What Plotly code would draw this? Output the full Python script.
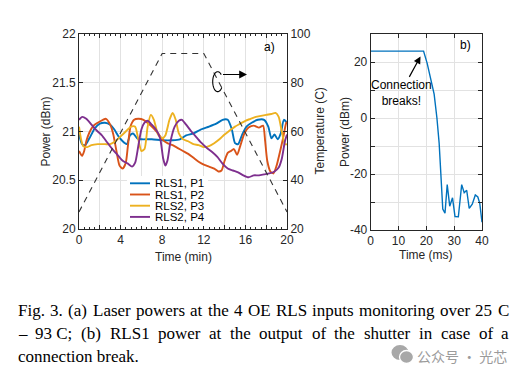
import math
import plotly.graph_objects as go

W, H = 532, 377
OFF = 8  # the page body margin shifts the figure by this many pixels

# ---------------- data: panel (a) ----------------
t_p1 = [0, 0.3, 0.6, 1.0, 1.5, 2.0, 2.5, 3.0, 3.4, 3.8, 4.2, 4.6, 4.9, 5.2, 5.6, 6.0, 7.0, 8.0, 9.0, 9.7,
        10.3, 11.0, 11.7, 12.5, 13.2, 13.8, 14.3, 14.7, 15.0, 15.3, 15.7, 16.1, 16.6, 17.2, 17.8, 18.2, 18.5,
        18.8, 19.1, 19.4, 19.7, 20.0]
p1 = [20.97, 20.87, 20.86, 20.93, 21.03, 21.08, 21.09, 21.07, 21.02, 20.95, 20.90, 20.87, 20.96, 20.98, 20.93,
      20.92, 20.92, 20.91, 20.91, 20.92, 20.96, 20.98, 21.02, 21.05, 21.08, 21.12, 21.12, 21.02, 20.88, 20.87,
      20.97, 21.05, 21.09, 21.12, 21.12, 21.05, 20.93, 20.97, 20.92, 20.98, 21.12, 21.09]

t_p2 = [0, 0.3, 0.5, 0.7, 1.0, 1.4, 1.8, 2.3, 2.6, 3.0, 3.3, 3.6, 3.9, 4.2, 4.5, 4.7, 4.95, 5.3, 5.7, 6.2, 6.7,
        7.2, 7.6, 8.0, 8.5, 9.0, 9.5, 10.0, 10.5, 11.0, 11.5, 12.0, 12.5, 13.0, 13.4, 13.7, 14.0, 14.3, 14.6,
        14.9, 15.2, 15.5, 15.9, 16.3, 16.8, 17.3, 17.7, 17.9, 18.1, 18.4, 18.7, 19.0, 19.3, 19.6, 19.9, 20.0]
p2 = [20.80, 20.75, 20.80, 20.90, 20.99, 21.06, 21.09, 21.12, 21.13, 21.07, 20.97, 20.80, 20.65, 20.62, 20.68,
      20.85, 21.05, 21.12, 21.13, 21.12, 21.08, 21.03, 20.98, 20.92, 20.88, 20.86, 20.83, 20.80, 20.77, 20.73,
      20.69, 20.66, 20.64, 20.62, 20.59, 20.60, 20.70, 20.78, 20.80, 20.82, 20.76, 20.85, 20.98, 21.04, 21.06,
      21.04, 21.06, 20.90, 20.70, 20.59, 20.57, 20.65, 20.78, 20.92, 21.08, 21.10]

t_p3 = [0, 0.2, 0.4, 0.8, 1.2, 1.8, 2.5, 3.0, 3.5, 4.0, 4.5, 5.0, 5.4, 5.7, 6.0, 6.3, 6.6, 6.9, 7.2, 7.6, 8.0,
        8.3, 8.7, 9.0, 9.3, 9.6, 10.0, 10.5, 11.0, 11.5, 12.0, 12.5, 13.0, 13.5, 14.0, 14.5, 15.0, 15.5, 16.0,
        16.5, 17.0, 17.5, 18.0, 18.5, 18.9, 19.2, 19.5, 19.8, 20.0]
p3 = [21.05, 20.92, 20.85, 20.84, 20.86, 20.87, 20.87, 20.87, 20.90, 20.95, 21.00, 21.05, 21.05, 20.92, 20.80,
      20.82, 21.05, 21.17, 21.12, 20.97, 20.93, 20.96, 21.12, 21.19, 21.12, 20.98, 20.92, 20.90, 20.87, 20.86,
      20.84, 20.85, 20.88, 20.92, 20.97, 21.01, 21.05, 21.08, 21.11, 21.13, 21.15, 21.16, 21.17, 21.18, 21.19,
      21.15, 21.00, 20.87, 20.87]

t_p4 = [0, 0.3, 0.7, 1.2, 1.7, 2.2, 2.7, 3.2, 3.7, 4.2, 4.7, 5.1, 5.4, 5.7, 6.0, 6.3, 6.6, 7.0, 7.4, 7.8, 8.1,
        8.3, 8.5, 8.8, 9.2, 9.6, 9.9, 10.3, 10.8, 11.3, 11.8, 12.3, 12.8, 13.3, 13.8, 14.3, 14.8, 15.3, 15.8,
        16.3, 16.8, 17.3, 17.8, 18.3, 18.8, 19.2, 19.5, 19.8, 20.0]
p4 = [21.12, 21.15, 21.13, 21.07, 21.01, 20.96, 20.89, 20.82, 20.76, 20.70, 20.67, 20.64, 20.68, 20.85, 21.02,
      21.09, 21.11, 21.07, 21.02, 20.93, 20.72, 20.65, 20.70, 20.90, 21.05, 21.11, 21.12, 21.07, 21.00, 20.94,
      20.88, 20.83, 20.79, 20.74, 20.67, 20.62, 20.60, 20.58, 20.55, 20.53, 20.55, 20.55, 20.56, 20.57, 20.59,
      20.63, 20.72, 20.90, 20.97]

t_temp = [0, 8, 12, 20]
temp = [27, 92, 92, 27]

series_names = ["RLS1, P1", "RLS1, P2", "RLS2, P3", "RLS2, P4"]
series_colors = ["#0072BD", "#D95319", "#EDB120", "#7E2F8E"]

# ---------------- data: panel (b) ----------------
t_ms = [0, 19, 20.3, 21.6, 22.8, 23.8, 24.6, 25.1, 25.5, 25.9, 26.7, 27.5, 28.4, 29.4, 30.3, 31.5, 32.7,
        33.6, 34.5, 35.4, 36.5, 37.6, 38.5, 39.2, 40]
p_b = [23.9, 23.9, 19.5, 14, 8.5, 0, -9, -18, -27, -32.5, -34, -23.8, -31.5, -28.5, -35.2, -35.3, -23.8,
       -26.7, -25.8, -32.3, -30.8, -27.5, -28.2, -30.5, -37.2]

a_x_ticks = [0, 2, 4, 6, 8, 10, 12, 14, 16, 18, 20]
a_x_labels = ["0", "", "4", "", "8", "", "12", "", "16", "", "20"]
a_y_ticks = [20, 20.5, 21, 21.5, 22]
a_y_labels = ["20", "20.5", "21", "21.5", "22"]
temp_ticks = [20, 40, 60, 80, 100]
b_x_ticks = [0, 10, 20, 30, 40]
b_y_ticks = [-40, -30, -20, -10, 0, 10, 20, 30]
b_y_labels = ["-40", "", "-20", "", "0", "", "20", ""]

caption_1 = ["Fig.", "3.", "(a)", "Laser", "powers", "at", "the", "4", "OE", "RLS", "inputs", "monitoring",
             "over", "25", "C"]
caption_2 = ["–", "93\u00a0C;", "(b)", "RLS1", "power", "at", "the", "output", "of", "the", "shutter", "in",
             "case", "of", "a"]
caption_3 = "connection break."

# ---------------- helpers ----------------
def PX(x):
    return (x - OFF) / W


def PY(y):
    return 1 - (y - OFF) / H


AX_COL = "#262626"
GRID = "#e2e2e2"
SANS = "Liberation Sans, Arial, sans-serif"
SERIF = "Liberation Serif, Times New Roman, serif"

fig = go.Figure()

for tt, pp, nm, col in zip([t_p1, t_p2, t_p3, t_p4], [p1, p2, p3, p4], series_names, series_colors):
    fig.add_trace(go.Scatter(x=tt, y=pp, mode="lines", name=nm, showlegend=False,
                             line=dict(color=col, width=1.9, shape="spline", smoothing=0.6),
                             xaxis="x", yaxis="y"))

fig.add_trace(go.Scatter(x=t_temp, y=temp, mode="lines", showlegend=False,
                         line=dict(color="#333333", width=1.1, dash="6px,5px"),
                         xaxis="x", yaxis="y3"))

fig.add_trace(go.Scatter(x=t_ms, y=p_b, mode="lines", showlegend=False,
                         line=dict(color="#0072BD", width=1.4),
                         xaxis="x2", yaxis="y2"))

tickfont = dict(family=SANS, size=12, color=AX_COL)
common = dict(showline=True, linecolor=AX_COL, linewidth=1, ticks="inside", tickcolor=AX_COL,
              ticklen=4, tickwidth=1, zeroline=False, tickfont=tickfont, gridcolor=GRID, gridwidth=1,
              automargin=False)

fig.update_layout(
    template="none",
    width=W, height=H, autosize=False,
    margin=dict(l=0, r=0, t=0, b=0, pad=0),
    paper_bgcolor="white", plot_bgcolor="white",
    showlegend=False,
    xaxis=dict(domain=[PX(79), PX(287)], range=[0, 20], tickmode="array", tickvals=a_x_ticks,
               ticktext=a_x_labels, mirror="ticks", showgrid=True, anchor="y",
               minor=dict(dtick=0.5, ticklen=2, ticks="inside", tickcolor=AX_COL, showgrid=False),
               **common),
    yaxis=dict(domain=[PY(229), PY(34)], range=[20, 22], tickmode="array", tickvals=a_y_ticks,
               ticktext=a_y_labels, mirror=True, showgrid=True, anchor="x", **common),
    yaxis3=dict(overlaying="y", side="right", anchor="x", range=[20, 100], tickmode="array",
                tickvals=temp_ticks, showgrid=False, **common),
    xaxis2=dict(domain=[PX(370.7), PX(482)], range=[0, 40], tickmode="array", tickvals=b_x_ticks,
                mirror="ticks", showgrid=True, anchor="y2", **common),
    yaxis2=dict(domain=[PY(230), PY(34)], range=[-40, 30], tickmode="array", tickvals=b_y_ticks,
                ticktext=b_y_labels, mirror="ticks", showgrid=True, anchor="x2", **common),
)

ann = []
shapes = []


def txt(x, y, text, size=12, family=SANS, color=AX_COL, **kw):
    d = dict(x=PX(x), y=PY(y), xref="paper", yref="paper", text=text, showarrow=False,
             xanchor="center", yanchor="middle", font=dict(family=family, size=size, color=color))
    d.update(kw)
    ann.append(d)


# axis titles
txt(45, 131.5, "Power (dBm)", textangle=-90)
txt(319, 131.5, "Temperature (C)", textangle=-90)
txt(183, 256.5, "Time (min)")
txt(345, 132, "Power (dBm)", textangle=-90)
txt(426.4, 255, "Time (ms)")

# panel labels
txt(269, 46.5, "a)", color="black")
txt(465, 45, "b)", color="black")

# custom legend (white box, line samples, labels)
shapes.append(dict(type="rect", xref="paper", yref="paper", x0=PX(127), x1=PX(208), y0=PY(226),
                   y1=PY(176), fillcolor="white", line=dict(width=0), layer="above"))
row_y = [183.3, 194.5, 205.7, 216.9]
for nm, col, ry in zip(series_names, series_colors, row_y):
    shapes.append(dict(type="line", xref="paper", yref="paper", x0=PX(130), x1=PX(150), y0=PY(ry),
                       y1=PY(ry), line=dict(color=col, width=1.9), layer="above"))
    txt(152.5, ry, nm, size=11.5, color="black", xanchor="left")

# temperature-axis pointer: open ellipse + arrow
cx, cy, rx, ry_ = 217.7, 81.7, 5.0, 10.0
pts = []
for k in range(0, 29):
    ang = math.radians(45 + k * 10)
    pts.append((cx + rx * math.cos(ang), cy - ry_ * math.sin(ang)))
path = "M " + " L ".join(f"{PX(a):.5f},{PY(b):.5f}" for a, b in pts)
shapes.append(dict(type="path", xref="paper", yref="paper", path=path,
                   line=dict(color="black", width=1.1), layer="above"))
ann.append(dict(x=PX(247), y=PY(74.5), xref="paper", yref="paper", ax=-25.5, ay=0,
                text="", showarrow=True, arrowhead=2, arrowsize=1.3,
                arrowwidth=1.2, arrowcolor="black"))

# panel (b) annotation
ann.append(dict(x=17.9, y=22.0, xref="x2", yref="y2", ax=-12, ay=22, text="", showarrow=True,
                arrowhead=2, arrowsize=1.2, arrowwidth=1.2, arrowcolor="black"))
txt(401.7, 92.5, "Connection<br>breaks!", color="black", align="center")

# caption
TIMES = {' ': 0.25, '(': 0.333, ')': 0.333, '.': 0.25, ',': 0.25, ';': 0.278, '–': 0.5, '\u00a0': 0.25,
         'C': 0.667, 'E': 0.611, 'F': 0.556, 'L': 0.611, 'O': 0.722, 'R': 0.667, 'S': 0.556,
         'a': 0.444, 'b': 0.5, 'c': 0.444, 'e': 0.444, 'f': 0.333, 'g': 0.5, 'h': 0.5, 'i': 0.278,
         'k': 0.5, 'm': 0.778, 'n': 0.5, 'o': 0.5, 'p': 0.5, 'r': 0.333, 's': 0.389, 't': 0.278,
         'u': 0.5, 'v': 0.5, 'w': 0.722}
CAP_SIZE = 17


def wid(s):
    return sum(TIMES.get(c, 0.5) for c in s) * CAP_SIZE


def justify(words, x0, x1, yc):
    total = sum(wid(w) for w in words)
    gap = (x1 - x0 - total) / (len(words) - 1)
    x = x0
    for w in words:
        txt(x, yc, w, size=CAP_SIZE, family=SERIF, color="black", xanchor="left")
        x += wid(w) + gap


justify(caption_1, 16, 507, 310)
justify(caption_2, 16, 507, 333)
txt(16, 356, caption_3, size=CAP_SIZE, family=SERIF, color="black", xanchor="left")

# watermark
shapes.append(dict(type="circle", xref="paper", yref="paper", x0=PX(391.5), x1=PX(408.5), y0=PY(360),
                   y1=PY(345), fillcolor="#a8a8a8", line=dict(width=0)))
shapes.append(dict(type="circle", xref="paper", yref="paper", x0=PX(399.5), x1=PX(413.5), y0=PY(363.5),
                   y1=PY(350.5), fillcolor="#a8a8a8", line=dict(color="white", width=1.3)))
txt(415, 356, "公众号 · 光芯", size=14, family="Noto Sans CJK SC", color="#9b9b9b", xanchor="left")

fig.update_layout(annotations=ann, shapes=shapes)
fig.write_html("out.html")
